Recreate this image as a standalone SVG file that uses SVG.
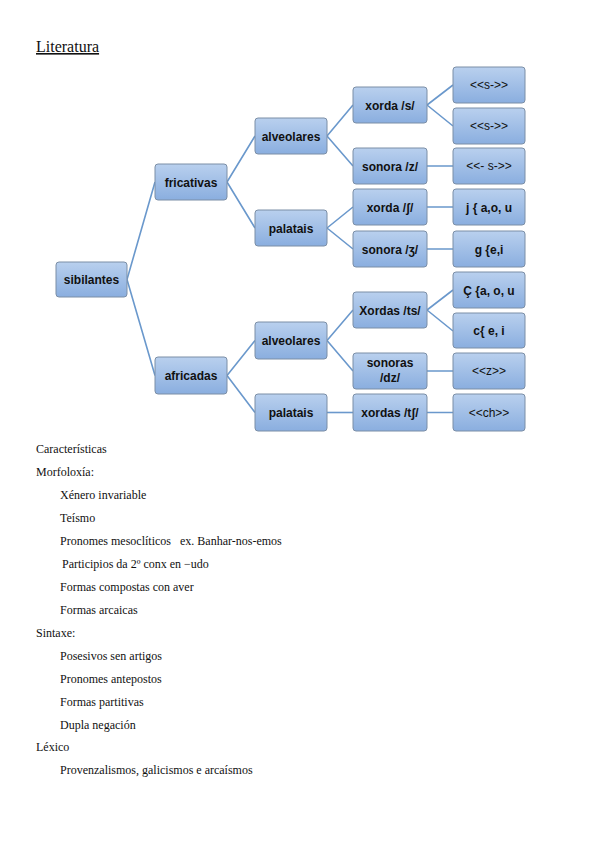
<svg xmlns="http://www.w3.org/2000/svg" width="599" height="848" viewBox="0 0 599 848">
<defs>
<linearGradient id="g" x1="0" y1="0" x2="0" y2="1">
<stop offset="0" stop-color="#b9d0ee"/>
<stop offset="1" stop-color="#8aaedf"/>
</linearGradient>
<style>
.b{fill:url(#g);stroke:#7b8ea6;stroke-width:1}
.t{font-family:"Liberation Sans",Arial,sans-serif;font-size:12px;font-weight:bold;fill:#111;text-anchor:middle}
.n{font-family:"Liberation Sans",Arial,sans-serif;font-size:12px;fill:#111;text-anchor:middle}
.c{stroke:#6a98cc;stroke-width:1.6;fill:none}
.p{font-family:"Liberation Serif","Times New Roman",serif;font-size:12px;fill:#111}
</style>
</defs>
<rect width="599" height="848" fill="#fff"/>
<text x="36" y="52" font-family="Liberation Serif,Times New Roman,serif" font-size="16" fill="#111" text-decoration="underline">Literatura</text>
<g id="connectors">
<path class="c" d="M127,279.5 L155,182 M127,279.5 L155,375.5"/>
<path class="c" d="M227,182 L255,136 M227,182 L255,228"/>
<path class="c" d="M227,375.5 L255,340.5 M227,375.5 L255,412.5"/>
<path class="c" d="M327,136 L353,105 M327,136 L353,166"/>
<path class="c" d="M327,228 L353,207 M327,228 L353,249"/>
<path class="c" d="M327,340.5 L353,310 M327,340.5 L353,371"/>
<path class="c" d="M327,412.5 L353,412.5"/>
<path class="c" d="M427,105 L453,85 M427,105 L453,126"/>
<path class="c" d="M427,166 L453,166 M427,207 L453,207 M427,249 L453,249"/>
<path class="c" d="M427,310 L453,290 M427,310 L453,331"/>
<path class="c" d="M427,371 L453,371 M427,412.5 L453,412.5"/>
</g>
<g id="sibilantes"><rect class="b" x="56" y="262" width="71" height="35" rx="3"/><text class="t" x="91.5" y="284">sibilantes</text></g>
<g id="fricativas"><rect class="b" x="155" y="164" width="72" height="36" rx="3"/><text class="t" x="191" y="186.5">fricativas</text></g>
<g id="africadas"><rect class="b" x="155" y="357" width="72" height="37" rx="3"/><text class="t" x="191" y="380">africadas</text></g>
<g id="alveolares1"><rect class="b" x="255" y="118" width="72" height="36" rx="3"/><text class="t" x="291" y="140.5">alveolares</text></g>
<g id="palatais1"><rect class="b" x="255" y="210" width="72" height="36" rx="3"/><text class="t" x="291" y="232.5">palatais</text></g>
<g id="alveolares2"><rect class="b" x="255" y="322" width="72" height="37" rx="3"/><text class="t" x="291" y="345">alveolares</text></g>
<g id="palatais2"><rect class="b" x="255" y="394" width="72" height="37" rx="3"/><text class="t" x="291" y="417">palatais</text></g>
<g id="xorda-s"><rect class="b" x="353" y="87" width="74" height="36" rx="3"/><text class="t" x="390" y="109.5">xorda /s/</text></g>
<g id="sonora-z"><rect class="b" x="353" y="148" width="74" height="36" rx="3"/><text class="t" x="390" y="170.5">sonora /z/</text></g>
<g id="xorda-sh"><rect class="b" x="353" y="189" width="74" height="36" rx="3"/><text class="t" x="390" y="211.5">xorda /ʃ/</text></g>
<g id="sonora-zh"><rect class="b" x="353" y="231" width="74" height="36" rx="3"/><text class="t" x="390" y="253.5">sonora /ʒ/</text></g>
<g id="xordas-ts"><rect class="b" x="353" y="292" width="74" height="36" rx="3"/><text class="t" x="390" y="314.5">Xordas /ts/</text></g>
<g id="sonoras-dz"><rect class="b" x="353" y="353" width="74" height="36" rx="3"/><text class="t" x="390" y="367">sonoras</text><text class="t" x="390" y="382">/dz/</text></g>
<g id="xordas-tsh"><rect class="b" x="353" y="394" width="74" height="37" rx="3"/><text class="t" x="390" y="417">xordas /tʃ/</text></g>
<g id="r1"><rect class="b" x="453" y="67" width="72" height="36" rx="3"/><text class="n" x="489" y="89">&lt;&lt;s-&gt;&gt;</text></g>
<g id="r2"><rect class="b" x="453" y="108" width="72" height="36" rx="3"/><text class="n" x="489" y="130">&lt;&lt;s-&gt;&gt;</text></g>
<g id="r3"><rect class="b" x="453" y="148" width="72" height="36" rx="3"/><text class="n" x="489" y="170">&lt;&lt;- s-&gt;&gt;</text></g>
<g id="r4"><rect class="b" x="453" y="189" width="72" height="36" rx="3"/><text class="t" x="489" y="211.5">j { a,o, u</text></g>
<g id="r5"><rect class="b" x="453" y="231" width="72" height="36" rx="3"/><text class="t" x="489" y="253.5">g {e,i</text></g>
<g id="r6"><rect class="b" x="453" y="272" width="72" height="36" rx="3"/><text class="t" x="489" y="294.5">Ç {a, o, u</text></g>
<g id="r7"><rect class="b" x="453" y="313" width="72" height="35" rx="3"/><text class="t" x="489" y="335">c{ e, i</text></g>
<g id="r8"><rect class="b" x="453" y="353" width="72" height="36" rx="3"/><text class="n" x="489" y="375">&lt;&lt;z&gt;&gt;</text></g>
<g id="r9"><rect class="b" x="453" y="394" width="72" height="37" rx="3"/><text class="n" x="489" y="416.5">&lt;&lt;ch&gt;&gt;</text></g>
<g id="notes">
<text class="p" x="36" y="453">Características</text>
<text class="p" x="36" y="476">Morfoloxía:</text>
<text class="p" x="60" y="499">Xénero invariable</text>
<text class="p" x="60" y="522">Teísmo</text>
<text class="p" x="60" y="545" xml:space="preserve">Pronomes mesoclíticos   ex. Banhar-nos-emos</text>
<text class="p" x="62" y="568">Participios da 2º conx en −udo</text>
<text class="p" x="60" y="591">Formas compostas con aver</text>
<text class="p" x="60" y="614">Formas arcaicas</text>
<text class="p" x="36" y="637">Sintaxe:</text>
<text class="p" x="60" y="660">Posesivos sen artigos</text>
<text class="p" x="60" y="683">Pronomes antepostos</text>
<text class="p" x="60" y="706">Formas partitivas</text>
<text class="p" x="60" y="729">Dupla negación</text>
<text class="p" x="36" y="751">Léxico</text>
<text class="p" x="60" y="774">Provenzalismos, galicismos e arcaísmos</text>
</g>
</svg>
